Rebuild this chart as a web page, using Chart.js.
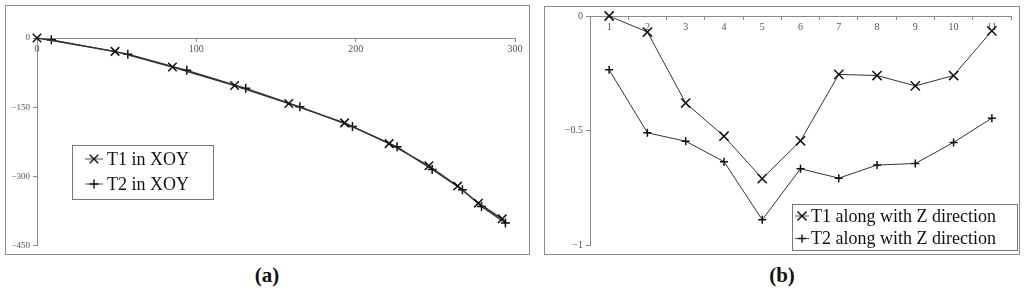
<!DOCTYPE html>
<html>
<head>
<meta charset="utf-8">
<script src="https://cdn.jsdelivr.net/npm/chart.js@4/dist/chart.umd.min.js"></script>
<style>
  body { margin: 0; width: 1024px; height: 293px; background: #fff; position: relative; overflow: hidden; }
  .panel { position: absolute; border: 1px solid #8c8c8c; }
  .panel canvas { display: block; }
  .cap { position: absolute; top: 263px; width: 100px; text-align: center; font: bold 21px "Liberation Serif", serif; color: #111; }
</style>
</head>
<body>
<div class="panel" id="pa" style="left:5px; top:5px; width:523px; height:248px;"><canvas id="chartA" width="523" height="248"></canvas></div>
<div class="panel" id="pb" style="left:544px; top:6px; width:474px; height:247px;"><canvas id="chartB" width="474" height="247"></canvas></div>
<div class="cap" style="left:217px;">(a)</div>
<div class="cap" style="left:732px;">(b)</div>
<script>
// panel (a): trajectories in XOY
const t1X = [0, 49, 85, 124, 158, 193, 221, 246, 264, 277, 292];
const t1Y = [0, -29, -63, -103, -142, -184, -229, -277, -321, -358, -392];
const t2X = [9, 57, 94, 131, 165, 198, 226, 248, 267, 279, 294];
const t2Y = [-4, -35, -70, -109, -149, -192, -236, -285, -329, -365, -401];
const xyXTicks = [0, 100, 200, 300];
const xyYTicks = [0, -150, -300, -450];

// panel (b): along Z direction
const zIndex = [1, 2, 3, 4, 5, 6, 7, 8, 9, 10, 11];
const t1Z = [0, -0.07, -0.38, -0.525, -0.71, -0.545, -0.255, -0.26, -0.305, -0.26, -0.065];
const t2Z = [-0.235, -0.51, -0.547, -0.636, -0.89, -0.667, -0.708, -0.651, -0.644, -0.552, -0.446];
const zYTicks = [0, -0.5, -1];

const tickFont = { family: "'Liberation Serif', serif", size: 10 };
const tickColor = "#555";
const axisColor = "#8a8a8a";

function fmt(v) {
    return v < 0 ? "\u2212" + String(-v) : String(v);
}

// legend drawn inside the plot, box + marker + text
function boxLegend(opts) {
    return {
        id: "boxLegend",
        afterDraw(chart) {
            const ctx = chart.ctx;
            ctx.save();
            ctx.strokeStyle = "#777";
            ctx.lineWidth = 1;
            ctx.strokeRect(opts.x + 0.5, opts.y + 0.5, opts.w, opts.h);
            ctx.font = "18px 'Liberation Serif', serif";
            ctx.textBaseline = "middle";
            ctx.fillStyle = "#111";
            chart.data.datasets.forEach((ds, i) => {
                const cy = opts.y + opts.rowTop + i * opts.rowGap;
                ctx.strokeStyle = "#555";
                ctx.lineWidth = 1;
                ctx.beginPath();
                ctx.moveTo(opts.lineX, cy);
                ctx.lineTo(opts.lineX + opts.lineW, cy);
                ctx.stroke();
                ctx.strokeStyle = "#111";
                ctx.lineWidth = 1.4;
                Chart.helpers.drawPoint(ctx, { pointStyle: ds.pointStyle, radius: ds.pointRadius, borderWidth: 1.4 },
                    opts.lineX + opts.lineW / 2, cy);
                ctx.fillText(ds.label, opts.textX, cy + 1);
            });
            ctx.restore();
        }
    };
}

function lineSet(label, style, radius, pts, lw) {
    return {
        label: label,
        data: pts,
        pointStyle: style,
        pointRadius: radius,
        pointHoverRadius: radius,
        pointBorderColor: "#111",
        pointBorderWidth: 1.5,
        borderColor: "#333",
        borderWidth: lw,
        fill: false,
        tension: 0,
        clip: false
    };
}

const ctxA = document.getElementById("chartA").getContext("2d");
new Chart(ctxA, {
    type: "line",
    data: {
        datasets: [
            lineSet("T1 in XOY", "crossRot", 6, t1X.map((x, i) => ({ x: x, y: t1Y[i] })), 1.3),
            lineSet("T2 in XOY", "cross", 4.5, t2X.map((x, i) => ({ x: x, y: t2Y[i] })), 1.3)
        ]
    },
    options: {
        responsive: false,
        animation: false,
        layout: { padding: { left: 0, right: 14, top: 32, bottom: 6 } },
        plugins: { legend: { display: false }, tooltip: { enabled: false } },
        scales: {
            x: {
                type: "linear",
                position: { y: 0 },
                min: 0, max: 300,
                afterBuildTicks: s => { s.ticks = xyXTicks.map(v => ({ value: v })); },
                grid: { drawOnChartArea: false, drawTicks: true, tickLength: 3, color: axisColor },
                border: { color: axisColor, width: 1 },
                ticks: { font: tickFont, color: tickColor, padding: 2, maxRotation: 0, callback: v => fmt(v) }
            },
            y: {
                type: "linear",
                position: "left",
                min: -450, max: 0,
                afterBuildTicks: s => { s.ticks = xyYTicks.map(v => ({ value: v })); },
                afterFit: s => { s.width = 31; },
                grid: { drawOnChartArea: false, drawTicks: true, tickLength: 4, color: axisColor },
                border: { color: axisColor, width: 1 },
                ticks: { font: { family: tickFont.family, size: 9 }, color: tickColor, padding: 3, callback: v => fmt(v) }
            }
        }
    },
    plugins: [boxLegend({ x: 66, y: 139, w: 141, h: 54, rowTop: 14, rowGap: 25, lineX: 79, lineW: 18, textX: 101 })]
});

const ctxB = document.getElementById("chartB").getContext("2d");
new Chart(ctxB, {
    type: "line",
    data: {
        datasets: [
            lineSet("T1 along with Z direction", "crossRot", 6.5, zIndex.map((x, i) => ({ x: x, y: t1Z[i] })), 1),
            lineSet("T2 along with Z direction", "cross", 4, zIndex.map((x, i) => ({ x: x, y: t2Z[i] })), 1)
        ]
    },
    options: {
        responsive: false,
        animation: false,
        layout: { padding: { left: 0, right: 0, top: 9, bottom: 7 } },
        plugins: { legend: { display: false }, tooltip: { enabled: false } },
        scales: {
            x: {
                type: "linear",
                position: { y: 0 },
                min: 0.5, max: 11.5,
                afterBuildTicks: s => { s.ticks = zIndex.map(v => ({ value: v })); },
                grid: { drawOnChartArea: false, drawTicks: true, tickLength: 3, color: axisColor, offset: true },
                border: { color: axisColor, width: 1 },
                ticks: { font: tickFont, color: tickColor, padding: 2, maxRotation: 0, callback: v => fmt(v) }
            },
            y: {
                type: "linear",
                position: "left",
                min: -1, max: 0,
                afterBuildTicks: s => { s.ticks = zYTicks.map(v => ({ value: v })); },
                afterFit: s => { s.width = 45; },
                grid: { drawOnChartArea: false, drawTicks: true, tickLength: 4, color: axisColor },
                border: { color: axisColor, width: 1 },
                ticks: { font: tickFont, color: tickColor, padding: 3, callback: v => fmt(v) }
            }
        }
    },
    plugins: [boxLegend({ x: 247, y: 197, w: 225, h: 46, rowTop: 12, rowGap: 22.5, lineX: 250, lineW: 14, textX: 266 })]
});
</script>
</body>
</html>
